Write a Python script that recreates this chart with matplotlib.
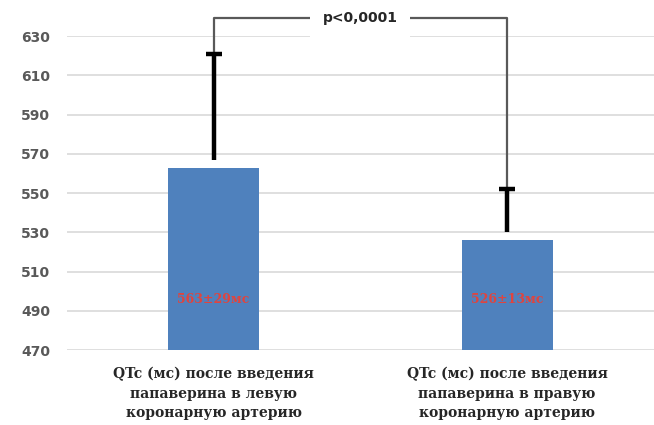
import matplotlib.pyplot as plt
import numpy as np

# data
categories = ["QTc (мс) после введения\nпапаверина в левую\nкоронарную артерию",
              "QTc (мс) после введения\nпапаверина в правую\nкоронарную артерию"]
values = [563, 526]
errors = [58, 26]
bar_labels = ["563±29мс", "526±13мс"]
p_text = "p<0,0001"
yticks = [470, 490, 510, 530, 550, 570, 590, 610, 630]

fig = plt.figure(figsize=(6.54, 4.25), dpi=100)
ax = fig.add_axes([0.102, 0.176, 0.898, 0.739])

x = np.arange(len(values))
vals = np.array(values)
tops = vals + np.array(errors)
ax.bar(x, vals, width=0.31, color="#4f81bd", zorder=3)

# error bars: upper half only, starting a bit above the bar, with a top cap
gap = 4
ax.vlines(x, vals + gap, tops, color="black", lw=3.2, zorder=4)
ax.plot(x, tops, ls="none", marker="_", ms=11, mew=3.2, color="black", zorder=4)

for xi, v, lab in zip(x, vals, bar_labels):
    ax.text(xi, 496, lab, ha="center", va="center", color="#e0443e",
            fontsize=9, fontweight="bold", family="DejaVu Serif", zorder=5)

# significance bracket
top = 639
ax.plot([x[0], x[0], x[1], x[1]], [tops[0], top, top, tops[1]],
        color="#595959", lw=1.6, clip_on=False, zorder=2)
ax.text(0.5, top, p_text, ha="center", va="center", fontsize=10,
        fontweight="bold", color="#262626",
        bbox=dict(facecolor="white", edgecolor="none", pad=9), zorder=6,
        clip_on=False)

ax.set_xlim(-0.5, 1.5)
ax.set_ylim(470, 630)
ax.set_yticks(yticks)
ax.set_xticks(x)
ax.set_xticklabels(categories, fontsize=10, fontweight="bold",
                   family="DejaVu Serif", color="#262626", linespacing=1.5)
for t in ax.get_yticklabels():
    t.set_fontweight("bold")
    t.set_color("#595959")
    t.set_fontsize(10)
ax.grid(axis="y", color="#d9d9d9", lw=1.2, zorder=0)
ax.tick_params(length=0, pad=12)
for s in ax.spines.values():
    s.set_visible(False)

fig.savefig("out.png", dpi=100)
